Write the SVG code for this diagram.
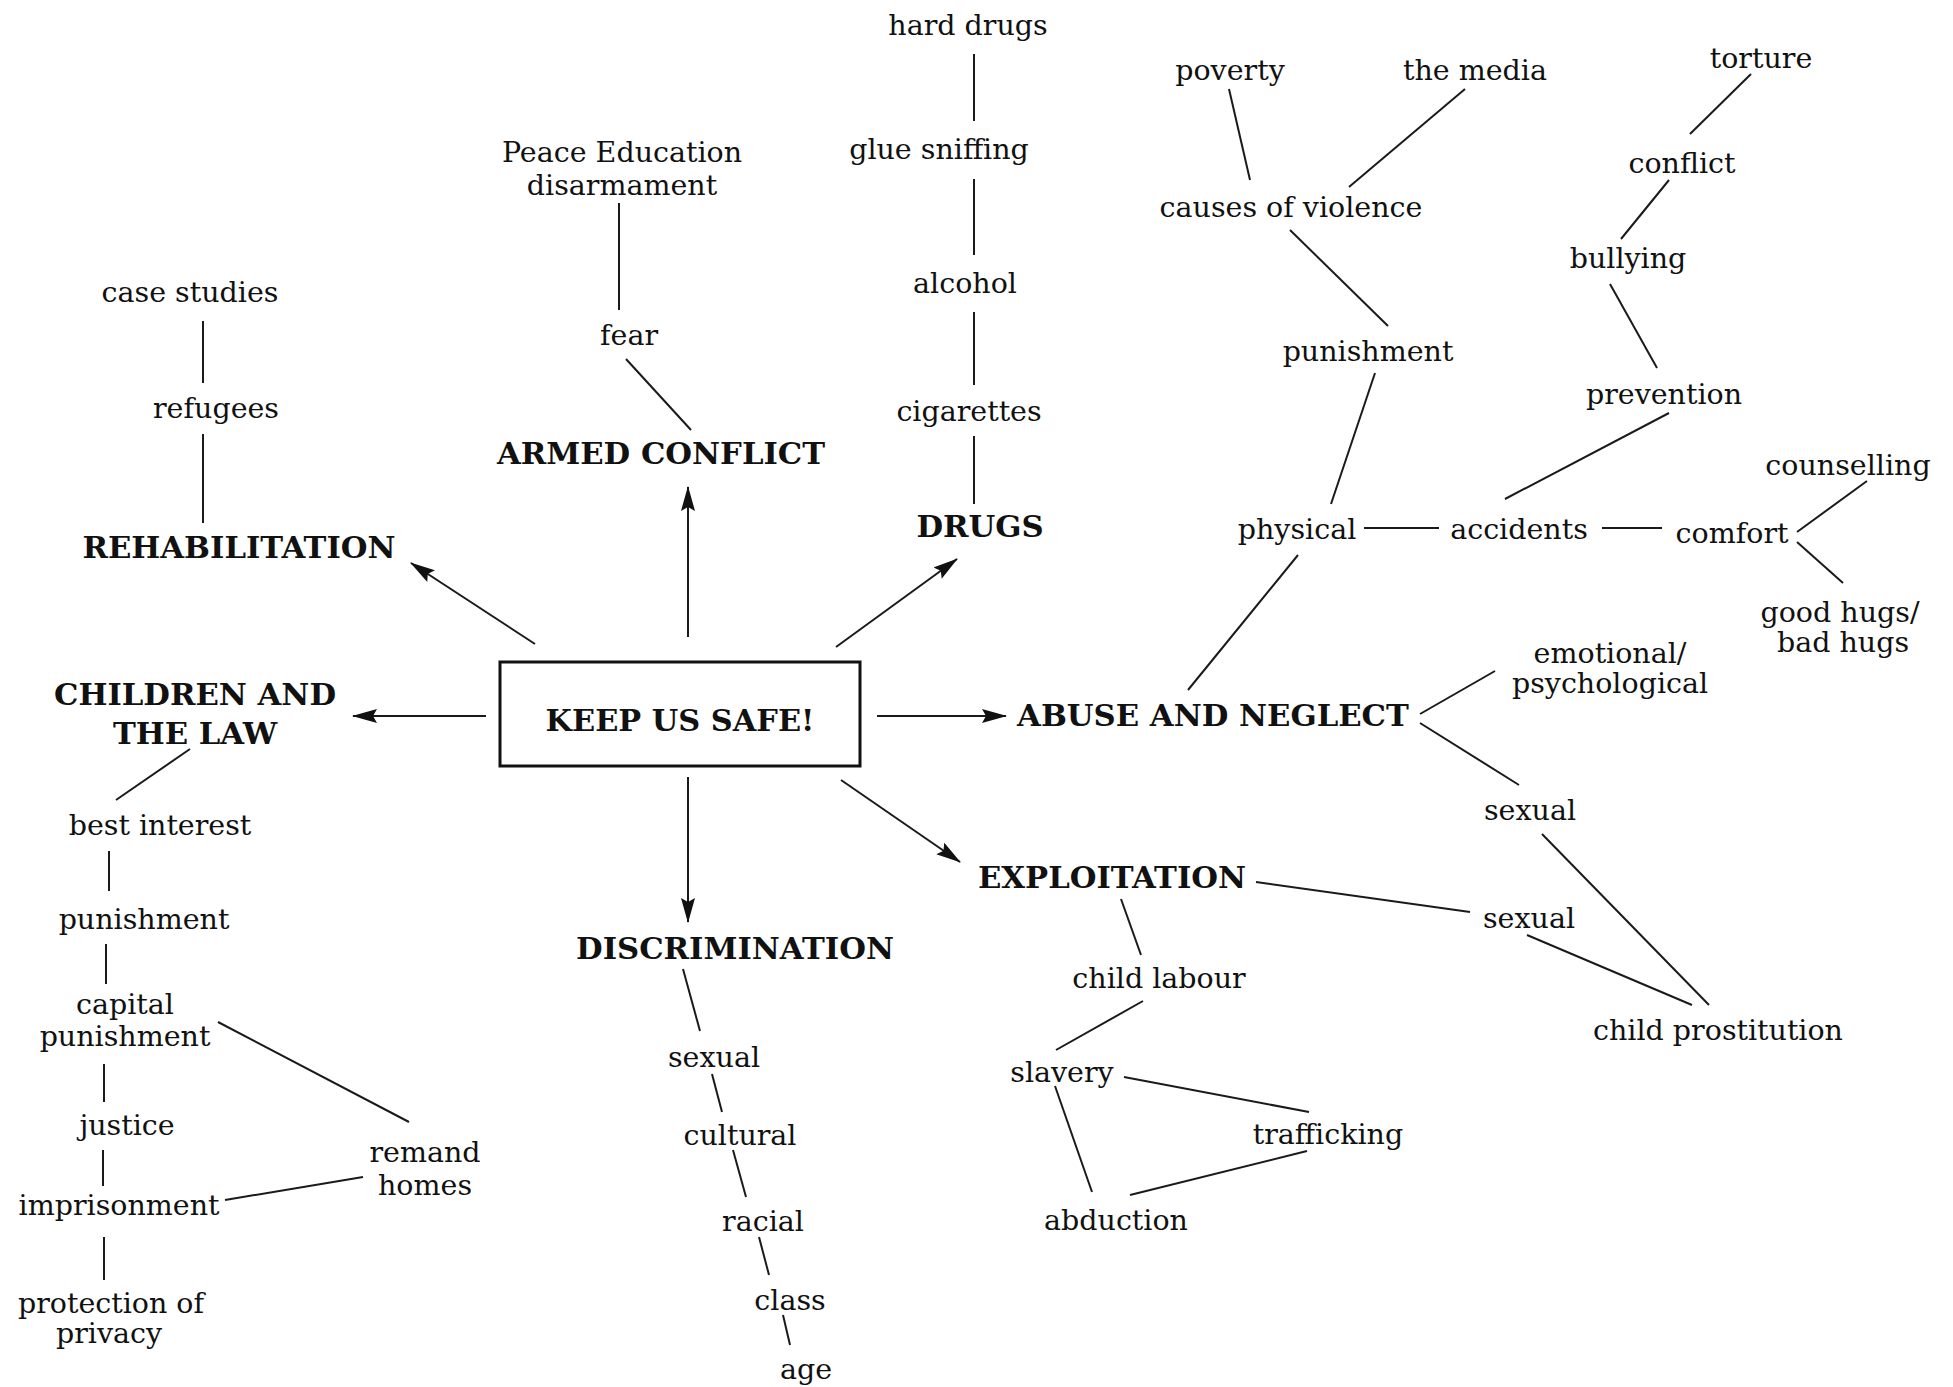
<svg xmlns="http://www.w3.org/2000/svg" width="1953" height="1387" viewBox="0 0 1953 1387">
<style>
text{font-family:"DejaVu Serif","Liberation Serif",serif;fill:#111;text-anchor:middle}
.n{font-size:28.5px}
.h{font-size:30.7px;font-weight:bold}
.k{font-size:30.4px;font-weight:bold}
.c line{stroke:#1a1a1a;stroke-width:2;fill:none}
.c .a{marker-end:url(#ah)}
</style>
<defs>
<marker id="ah" markerUnits="userSpaceOnUse" markerWidth="26" markerHeight="16" refX="24" refY="7" orient="auto">
<path d="M0,0 L25,7 L0,14 L4,7 z" fill="#111"/>
</marker>
</defs>
<rect width="1953" height="1387" fill="#fff"/>
<g class="c" id="connectors">
<line class="a" x1="688" y1="637" x2="688" y2="487"/>
<line class="a" x1="535" y1="644" x2="411" y2="563"/>
<line class="a" x1="836" y1="647" x2="957" y2="559"/>
<line class="a" x1="486" y1="716" x2="353" y2="716"/>
<line class="a" x1="877" y1="716" x2="1006" y2="716"/>
<line class="a" x1="688" y1="777" x2="688" y2="922"/>
<line class="a" x1="841" y1="780" x2="960" y2="862"/>
<line x1="203" y1="321" x2="203" y2="383"/>
<line x1="203" y1="434" x2="203" y2="523"/>
<line x1="619" y1="203" x2="619" y2="310"/>
<line x1="626" y1="359" x2="691" y2="430"/>
<line x1="974" y1="54" x2="974" y2="121"/>
<line x1="974" y1="179" x2="974" y2="255"/>
<line x1="974" y1="312" x2="974" y2="385"/>
<line x1="974" y1="436" x2="974" y2="504"/>
<line x1="1229" y1="89" x2="1250" y2="180"/>
<line x1="1465" y1="89" x2="1349" y2="187"/>
<line x1="1290" y1="230" x2="1388" y2="326"/>
<line x1="1375" y1="373" x2="1331" y2="504"/>
<line x1="1751" y1="74" x2="1690" y2="134"/>
<line x1="1669" y1="180" x2="1621" y2="239"/>
<line x1="1610" y1="284" x2="1657" y2="368"/>
<line x1="1669" y1="413" x2="1505" y2="499"/>
<line x1="1364" y1="528" x2="1439" y2="528"/>
<line x1="1602" y1="528" x2="1662" y2="528"/>
<line x1="1797" y1="532" x2="1867" y2="481"/>
<line x1="1797" y1="542" x2="1843" y2="583"/>
<line x1="1298" y1="555" x2="1188" y2="690"/>
<line x1="1420" y1="714" x2="1495" y2="671"/>
<line x1="1420" y1="723" x2="1519" y2="785"/>
<line x1="1542" y1="834" x2="1709" y2="1005"/>
<line x1="1256" y1="882" x2="1470" y2="912"/>
<line x1="1527" y1="935" x2="1692" y2="1005"/>
<line x1="1121" y1="899" x2="1141" y2="955"/>
<line x1="1143" y1="1001" x2="1056" y2="1050"/>
<line x1="1124" y1="1077" x2="1309" y2="1112"/>
<line x1="1055" y1="1086" x2="1092" y2="1192"/>
<line x1="1307" y1="1151" x2="1130" y2="1195"/>
<line x1="683" y1="969" x2="700" y2="1031"/>
<line x1="712" y1="1074" x2="722" y2="1112"/>
<line x1="733" y1="1150" x2="746" y2="1197"/>
<line x1="759" y1="1237" x2="769" y2="1275"/>
<line x1="783" y1="1315" x2="790" y2="1345"/>
<line x1="190" y1="749" x2="116" y2="800"/>
<line x1="109" y1="851" x2="109" y2="891"/>
<line x1="106" y1="944" x2="106" y2="984"/>
<line x1="218" y1="1022" x2="409" y2="1122"/>
<line x1="104" y1="1064" x2="104" y2="1102"/>
<line x1="103" y1="1150" x2="103" y2="1186"/>
<line x1="225" y1="1200" x2="363" y2="1177"/>
<line x1="104" y1="1237" x2="104" y2="1280"/>
</g>
<g id="keep-us-safe"><rect x="500" y="662" width="360" height="104" fill="none" stroke="#111" stroke-width="3"/><text class="k" x="680" y="731">KEEP US SAFE!</text></g>
<g id="rehabilitation"><text class="h" x="239" y="558">REHABILITATION</text></g>
<g id="refugees"><text class="n" x="216" y="418">refugees</text></g>
<g id="case-studies"><text class="n" x="190" y="302">case studies</text></g>
<g id="armed-conflict"><text class="h" x="661" y="464">ARMED CONFLICT</text></g>
<g id="fear"><text class="n" x="629" y="345">fear</text></g>
<g id="peace-education"><text class="n" x="622" y="162">Peace Education</text><text class="n" x="622" y="195">disarmament</text></g>
<g id="drugs"><text class="h" x="980" y="537">DRUGS</text></g>
<g id="cigarettes"><text class="n" x="969" y="421">cigarettes</text></g>
<g id="alcohol"><text class="n" x="965" y="293">alcohol</text></g>
<g id="glue-sniffing"><text class="n" x="939" y="159">glue sniffing</text></g>
<g id="hard-drugs"><text class="n" x="968" y="35">hard drugs</text></g>
<g id="poverty"><text class="n" x="1230" y="80">poverty</text></g>
<g id="the-media"><text class="n" x="1475" y="80">the media</text></g>
<g id="causes-of-violence"><text class="n" x="1291" y="217">causes of violence</text></g>
<g id="punishment-r"><text class="n" x="1368" y="361">punishment</text></g>
<g id="torture"><text class="n" x="1761" y="68">torture</text></g>
<g id="conflict"><text class="n" x="1682" y="173">conflict</text></g>
<g id="bullying"><text class="n" x="1628" y="268">bullying</text></g>
<g id="prevention"><text class="n" x="1664" y="404">prevention</text></g>
<g id="physical"><text class="n" x="1297" y="539">physical</text></g>
<g id="accidents"><text class="n" x="1519" y="539">accidents</text></g>
<g id="comfort"><text class="n" x="1732" y="543">comfort</text></g>
<g id="counselling"><text class="n" x="1848" y="475">counselling</text></g>
<g id="good-hugs"><text class="n" x="1840" y="622">good hugs/</text><text class="n" x="1843" y="652">bad hugs</text></g>
<g id="abuse-and-neglect"><text class="h" x="1213" y="726">ABUSE AND NEGLECT</text></g>
<g id="emotional"><text class="n" x="1610" y="663">emotional/</text><text class="n" x="1610" y="693">psychological</text></g>
<g id="sexual-abuse"><text class="n" x="1530" y="820">sexual</text></g>
<g id="exploitation"><text class="h" x="1112" y="888">EXPLOITATION</text></g>
<g id="sexual-exploitation"><text class="n" x="1529" y="928">sexual</text></g>
<g id="child-prostitution"><text class="n" x="1718" y="1040">child prostitution</text></g>
<g id="child-labour"><text class="n" x="1159" y="988">child labour</text></g>
<g id="slavery"><text class="n" x="1062" y="1082">slavery</text></g>
<g id="trafficking"><text class="n" x="1328" y="1144">trafficking</text></g>
<g id="abduction"><text class="n" x="1116" y="1230">abduction</text></g>
<g id="discrimination"><text class="h" x="735" y="959">DISCRIMINATION</text></g>
<g id="sexual-d"><text class="n" x="714" y="1067">sexual</text></g>
<g id="cultural"><text class="n" x="740" y="1145">cultural</text></g>
<g id="racial"><text class="n" x="763" y="1231">racial</text></g>
<g id="class"><text class="n" x="790" y="1310">class</text></g>
<g id="age"><text class="n" x="806" y="1379">age</text></g>
<g id="children-and-the-law"><text class="h" x="195" y="705">CHILDREN AND</text><text class="h" x="195" y="744">THE LAW</text></g>
<g id="best-interest"><text class="n" x="160" y="835">best interest</text></g>
<g id="punishment-l"><text class="n" x="144" y="929">punishment</text></g>
<g id="capital-punishment"><text class="n" x="125" y="1014">capital</text><text class="n" x="125" y="1046">punishment</text></g>
<g id="justice"><text class="n" x="127" y="1135">justice</text></g>
<g id="imprisonment"><text class="n" x="119" y="1215">imprisonment</text></g>
<g id="remand-homes"><text class="n" x="425" y="1162">remand</text><text class="n" x="425" y="1195">homes</text></g>
<g id="protection-of-privacy"><text class="n" x="111" y="1313">protection of</text><text class="n" x="109" y="1343">privacy</text></g>
</svg>
